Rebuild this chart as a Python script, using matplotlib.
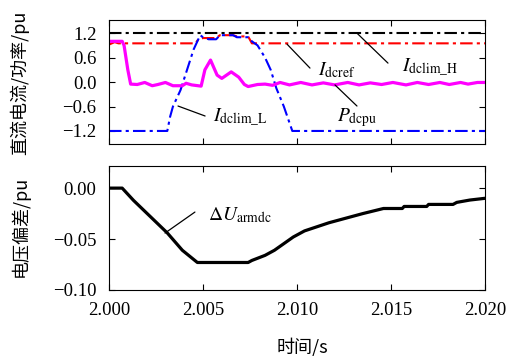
import matplotlib
matplotlib.use('Agg')
import matplotlib.pyplot as plt
import numpy as np

plt.rcParams['font.family'] = ['Liberation Serif', 'Noto Sans CJK SC']
plt.rcParams['mathtext.fontset'] = 'stix'
plt.rcParams['axes.unicode_minus'] = True

# 时间 (ms 偏移, 基准 2.000 s)
t_h = [0.0, 20.0]
i_h = [1.2, 1.2]

t_ref = [0.0, 0.3, 0.5, 4.6, 4.75, 5.0, 5.7, 5.9, 6.6, 6.8, 7.4, 7.6, 20.0]
i_ref = [0.92, 0.98, 0.95, 0.95, 1.05, 1.08, 1.08, 1.15, 1.15, 1.12, 1.12, 0.95, 0.95]

t_l = [0.0, 3.1, 3.25, 3.4, 3.8, 4.15, 4.5, 4.85, 5.0, 5.3, 5.7, 5.9, 6.6, 6.8,
       7.4, 7.6, 7.9, 8.3, 8.6, 8.9, 9.3, 9.75, 20.0]
i_l = [-1.2, -1.2, -0.85, -0.6, -0.2, 0.3, 0.8, 1.15, 1.1, 1.05, 1.05, 1.15, 1.15, 1.1,
       1.1, 1.0, 0.9, 0.6, 0.3, -0.15, -0.6, -1.2, -1.2]

t_p = [0.0, 0.7, 0.8, 1.0, 1.15, 1.5, 1.9, 2.3, 2.6, 3.0, 3.4, 3.9, 4.1, 4.4, 4.9,
       5.1, 5.4, 5.75, 6.0, 6.5, 6.9, 7.2, 7.4, 7.9, 8.3, 8.7, 9.1, 9.6, 10.2, 10.8,
       11.4, 12.0, 12.7, 13.3, 13.9, 14.5, 15.1, 15.8, 16.4, 17.0, 17.6, 18.1, 18.7,
       19.1, 19.6, 20.0]
p_dc = [1.0, 1.0, 0.9, 0.3, -0.05, -0.06, -0.01, -0.09, -0.06, -0.01, -0.09, -0.09,
        -0.03, -0.07, -0.1, 0.3, 0.54, 0.17, 0.09, 0.25, 0.12, -0.06, -0.11, -0.06,
        -0.05, -0.08, -0.01, -0.07, -0.01, -0.07, -0.02, -0.07, -0.01, -0.07, -0.02,
        -0.06, -0.01, -0.07, -0.01, -0.06, -0.01, -0.06, -0.01, -0.05, -0.01, -0.01]

t_u = [0.0, 0.7, 1.3, 2.2, 3.1, 3.9, 4.7, 7.4, 7.6, 8.3, 8.8, 9.8, 10.4, 11.7,
       13.5, 14.6, 15.6, 15.7, 16.9, 17.0, 18.3, 18.5, 19.2, 20.0]
du = [0.0, 0.0, -0.012, -0.028, -0.044, -0.061, -0.073, -0.073, -0.071, -0.066,
      -0.061, -0.048, -0.042, -0.034, -0.025, -0.020, -0.020, -0.018, -0.018,
      -0.016, -0.016, -0.014, -0.0117, -0.010]

def tt(ms):
    return 2.0 + np.array(ms) / 1000.0

fig = plt.figure(figsize=(5.15, 3.56), dpi=100)
ax1 = fig.add_axes([0.2117, 0.5955, 0.730, 0.348])
ax2 = fig.add_axes([0.2117, 0.1854, 0.730, 0.348])

dd = (0, (6, 2, 1.5, 2))
ax1.plot(tt(t_h), i_h, color='k', lw=1.5, ls=dd)
ax1.plot(tt(t_ref), i_ref, color='#ff0000', lw=1.5, ls=dd)
ax1.plot(tt(t_l), i_l, color='#0000ff', lw=1.5, ls=dd)
ax1.plot(tt(t_p), p_dc, color='#ff00ff', lw=2.3)
ax1.set_xlim(2.0, 2.02)
ax1.set_ylim(-1.52, 1.52)
ax1.set_yticks([1.2, 0.6, 0.0, -0.6, -1.2])
ax1.set_yticklabels(['1.2', '0.6', '0.0', '\u22120.6', '\u22121.2'])
ax1.set_xticks([2.0, 2.005, 2.01, 2.015, 2.02])
ax1.set_xticklabels([])

ax2.plot(tt(t_u), du, color='k', lw=2.3)
ax2.set_xlim(2.0, 2.02)
ax2.set_ylim(-0.10, 0.0216)
ax2.set_yticks([0.0, -0.05, -0.10])
ax2.set_yticklabels(['0.00', '\u22120.05', '\u22120.10'])
ax2.set_xticks([2.0, 2.005, 2.01, 2.015, 2.02])
ax2.set_xticklabels(['2.000', '2.005', '2.010', '2.015', '2.020'])

for ax in (ax1, ax2):
    ax.tick_params(direction='in', top=True, right=True, length=4,
                   labelsize=13.5, pad=9)

arr = dict(arrowstyle='-', color='k', lw=0.9, shrinkA=0, shrinkB=0)
fs = 14
ax1.annotate('', xy=(2.00367, -0.588), xytext=(2.00511, -0.833), arrowprops=arr)
ax1.text(2.00553, -0.88, r'$I_{\rm dclim\_L}$', fontsize=fs, va='center', ha='left')
ax1.annotate('', xy=(2.00947, 0.93), xytext=(2.01069, 0.343), arrowprops=arr)
ax1.text(2.01112, 0.29, r'$I_{\rm dcref}$', fontsize=fs, va='center', ha='left')
ax1.annotate('', xy=(2.01319, 1.2), xytext=(2.01484, 0.465), arrowprops=arr)
ax1.text(2.01559, 0.34, r'$I_{\rm dclim\_H}$', fontsize=fs, va='center', ha='left')
ax1.annotate('', xy=(2.01202, -0.07), xytext=(2.01319, -0.588), arrowprops=arr)
ax1.text(2.01213, -0.86, r'$P_{\rm dcpu}$', fontsize=fs, va='center', ha='left')
ax2.annotate('', xy=(2.00298, -0.0441), xytext=(2.00457, -0.0235), arrowprops=arr)
ax2.text(2.00527, -0.0265, r'$\Delta U_{\rm armdc}$', fontsize=fs, va='center', ha='left')

cjk = ['Noto Sans CJK SC', 'Liberation Serif']
fig.text(20 / 515, 1 - 83 / 356, '直流电流/功率/pu', rotation=90, ha='center', va='center',
         fontsize=13, family=cjk)
fig.text(20 / 515, 1 - 226 / 356, '电压偏差/pu', rotation=90, ha='center', va='center',
         fontsize=13, family=cjk)
fig.text(302 / 515, 1 - 347 / 356, '时间/s', ha='center', va='center',
         fontsize=13, family=cjk)

fig.savefig('out.png', dpi=100)
